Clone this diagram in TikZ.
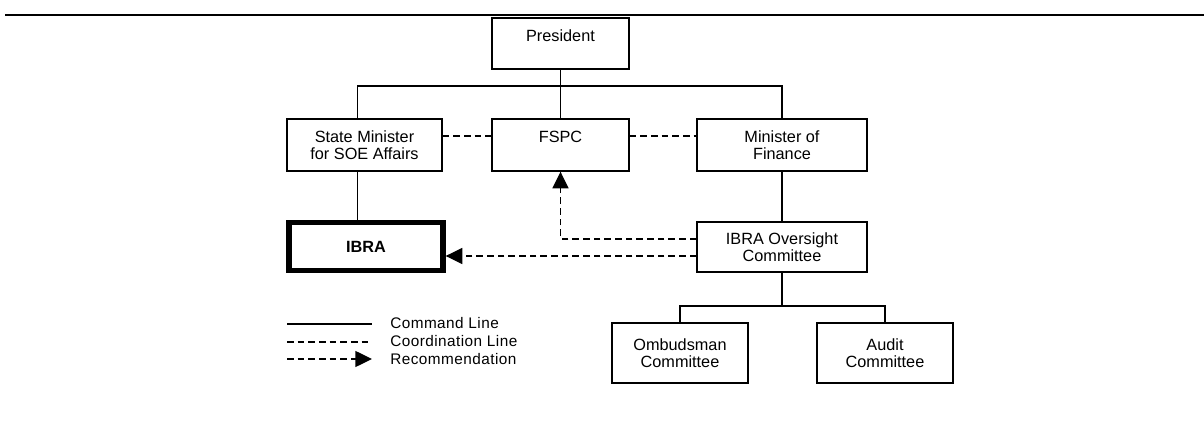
\documentclass[tikz,border=0pt]{standalone}
\usepackage{fontspec}
\setmainfont{Liberation Sans}
\newfontfamily\legfamily[LetterSpace=3]{Liberation Sans}
\usepackage{tikz}
\usetikzlibrary{calc,arrows.meta}
\newcommand{\unitfont}{\fontsize{12.2}{12.4}\selectfont}
\newcommand{\legfont}{\legfamily\fontsize{11.5}{12}\selectfont}

\tikzset{
	unit/.style={draw, line width=1.05pt, align=center, inner sep=0pt, font=\unitfont},
	cmdline/.style={line width=1.05pt},
	coordline/.style={line width=1.05pt, dash pattern=on 5pt off 3pt},
	recline/.style={coordline, -{Triangle[length=12.5pt, width=12pt]}},
	legtext/.style={anchor=west, inner sep=0pt, font=\legfont}
}

\begin{document}
\begin{tikzpicture}[x=0.75pt, y=-0.75pt]
		%%%%% START %%%%%
		\useasboundingbox (0, 0) rectangle (1204, 423);
		
		\draw[line width=2.2pt] (5, 15) -- (1204, 15);
		
		\node[unit, minimum width=102.75pt, minimum height=38.25pt] (pres) at (560.5, 43.5) {President\\\mbox{}};
		
		\node[unit, minimum width=116.25pt, minimum height=39pt] (state) at (364.5, 145) {State Minister\\for SOE Affairs};
		\node[unit, minimum width=102.75pt, minimum height=39pt] (fspc) at (560.5, 145) {FSPC\\\mbox{}};
		\node[unit, minimum width=127.5pt, minimum height=39pt] (mof) at (782, 145) {Minister of\\Finance};
		
		\node[unit, line width=4pt, minimum width=115.5pt, minimum height=35.6pt] (ibra) at (366, 246.5) {\bfseries IBRA};
		\node[unit, minimum width=127.5pt, minimum height=37.5pt] (ibos) at (782, 247) {IBRA Oversight\\Committee};
		
		\node[unit, minimum width=102pt, minimum height=45pt] (omb) at (680, 353) {Ombudsman\\Committee};
		\node[unit, minimum width=102pt, minimum height=45pt] (aud) at (885, 353) {Audit\\Committee};
		
		% command lines
		\coordinate (topbar) at (560.5, 86);
		\draw[cmdline] (pres.south) -- (topbar);
		\draw[cmdline] ([xshift=-5.25pt]state.north) |- (topbar) -| (mof.north);
		\draw[cmdline] (topbar) -- (fspc.north);
		\draw[cmdline] ([xshift=-5.25pt]state.south) -- ([xshift=-5.25pt]state.south |- ibra.north);
		\draw[cmdline] (mof.south) -- (ibos.north);
		
		\coordinate (lowbar) at (782, 306);
		\draw[cmdline] (ibos.south) -- (lowbar);
		\draw[cmdline] (omb.north) |- (lowbar) -| (aud.north);
		
		% coordination lines
		\draw[coordline] ([yshift=6.75pt]state.east) -- ([yshift=6.75pt]fspc.west);
		\draw[coordline] ([yshift=6.75pt]fspc.east) -- ([yshift=6.75pt]mof.west);
		
		% recommendations
		\draw[recline] ([yshift=6pt]ibos.west) -| (fspc.south);
		\draw[recline] ([yshift=-6.75pt]ibos.west) -- ([yshift=-6.75pt]ibos.west -| ibra.east);
		
		% legend
		\coordinate (cmda) at (287, 324);
		\coordinate (cmdb) at (372, 324);
		\coordinate (cooa) at (287, 342);
		\coordinate (coob) at (372, 342);
		\coordinate (reca) at (287, 359);
		\coordinate (recb) at (372, 359);
		\draw[cmdline] (cmda) -- (cmdb);
		\draw[coordline] (cooa) -- (coob);
		\draw[recline] (reca) -- (recb);
		\node[legtext] (cmdtext) at (390, 323) {Command Line};
		\node[legtext] (cootext) at (390, 341) {Coordination Line};
		\node[legtext] (rectext) at (390, 359) {Recommendation};
		
		%%%%% END %%%%%
	\end{tikzpicture}
\end{document}
